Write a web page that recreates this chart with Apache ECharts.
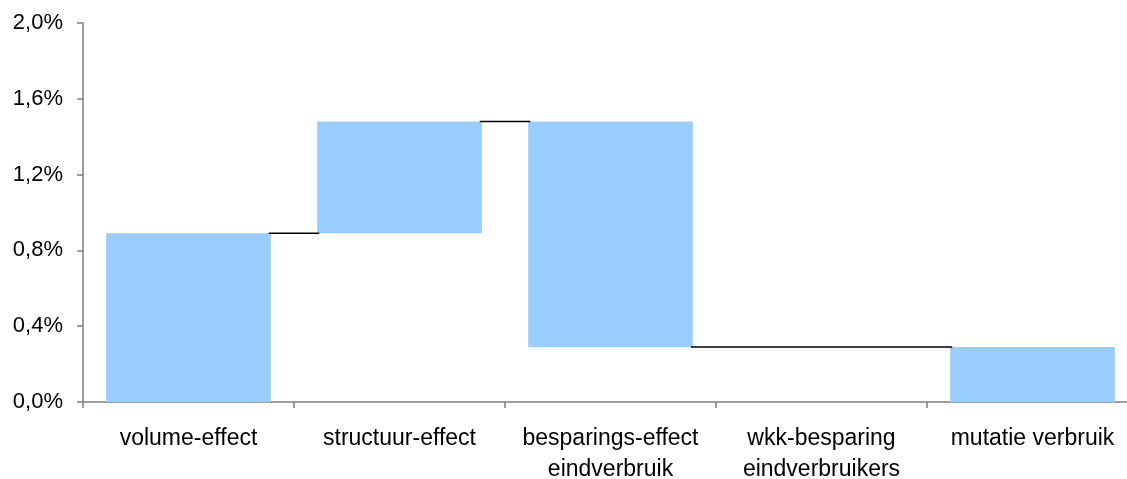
<!DOCTYPE html>
<html>
<head>
<meta charset="utf-8">
<script src="https://cdn.jsdelivr.net/npm/echarts@6/dist/echarts.min.js"></script>
<style>
  html, body { margin: 0; padding: 0; background: #fff; }
  #chart { width: 1127px; height: 479px; }
</style>
</head>
<body>
<div id="chart"></div>
<script>
// Waterfall: contributions (in %-points) to the change in consumption
const categories = [
  'volume-effect',
  'structuur-effect',
  'besparings-effect\neindverbruik',
  'wkk-besparing\neindverbruikers',
  'mutatie verbruik'
];
const effects = [0.89, 0.59, -1.19, 0.00];   // the four effects
const totalChange = 0.29;                    // resulting change (last bar)
const yTicks = [0, 0.4, 0.8, 1.2, 1.6, 2.0];

// Floating bars: invisible base + visible height
const base = [];
const height = [];
const levels = [];   // running level after each bar
let run = 0;
effects.forEach(function (d) {
  const next = run + d;
  base.push(Math.min(run, next));
  height.push(Math.abs(d));
  run = next;
  levels.push(run);
});
base.push(0);
height.push(totalChange);
levels.push(totalChange);

// Connectors: from each bar's end to the next bar that has a height
const connectors = [];
for (let i = 0; i < categories.length - 1; i++) {
  if (height[i] === 0) continue;
  let j = i + 1;
  while (j < categories.length - 1 && height[j] === 0) j++;
  connectors.push([i, j, levels[i]]);
}

const BAR_RATIO = 0.78;
const chart = echarts.init(document.getElementById('chart'));
const font = 'Liberation Sans, Arial, sans-serif';

chart.setOption({
  animation: false,
  grid: { left: 83, right: -11, top: 23, bottom: 77, outerBoundsMode: 'none', containLabel: false },
  xAxis: {
    type: 'category',
    data: categories,
    axisLine: { lineStyle: { color: '#7f7f7f', width: 1.5 } },
    axisTick: { show: true, length: 6, lineStyle: { color: '#7f7f7f', width: 1.5 } },
    axisLabel: {
      color: '#000', fontFamily: font, fontSize: 23, lineHeight: 31,
      margin: 21, interval: 0
    }
  },
  yAxis: {
    type: 'value',
    min: yTicks[0], max: yTicks[yTicks.length - 1], interval: yTicks[1] - yTicks[0],
    axisLine: { show: true, lineStyle: { color: '#7f7f7f', width: 1.5 } },
    axisTick: { show: true, length: 6, lineStyle: { color: '#7f7f7f', width: 1.5 } },
    splitLine: { show: false },
    axisLabel: {
      color: '#000', fontFamily: font, fontSize: 22, margin: 20,
      formatter: function (v) { return v.toFixed(1).replace('.', ',') + '%'; }
    }
  },
  series: [
    {
      type: 'bar', stack: 'w', data: base,
      itemStyle: { color: 'transparent' },
      barWidth: (BAR_RATIO * 100) + '%',
      silent: true
    },
    {
      type: 'bar', stack: 'w', data: height,
      itemStyle: { color: '#99ccff' },
      barWidth: (BAR_RATIO * 100) + '%'
    },
    {
      type: 'custom',
      data: connectors,
      z: 5,
      renderItem: function (params, api) {
        const half = api.size([1, 0])[0] * BAR_RATIO / 2;
        const a = api.coord([api.value(0), api.value(2)]);
        const b = api.coord([api.value(1), api.value(2)]);
        return {
          type: 'line',
          shape: { x1: a[0] + half - 2, y1: a[1], x2: b[0] - half + 2, y2: b[1] },
          style: { stroke: '#000', lineWidth: 1.5 }
        };
      }
    }
  ]
});
</script>
</body>
</html>
